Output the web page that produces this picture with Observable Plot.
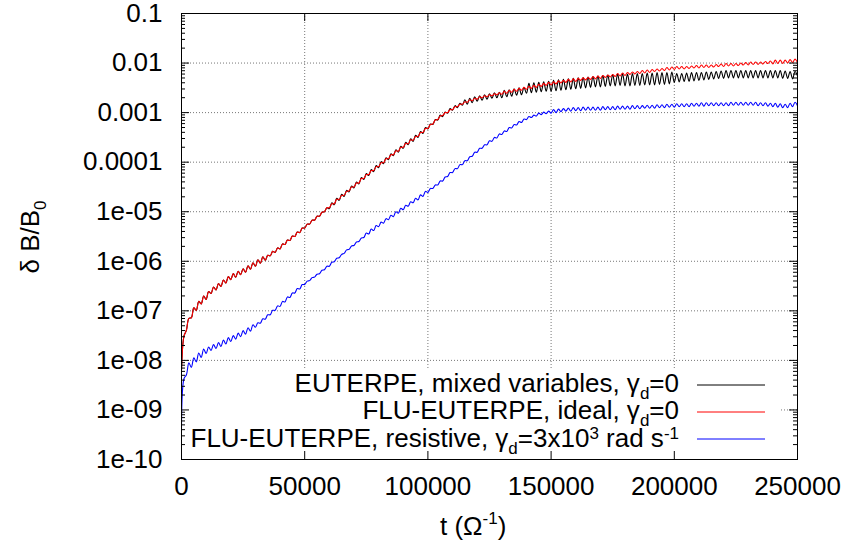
<!DOCTYPE html>
<html><head><meta charset="utf-8">
<script src="https://cdn.jsdelivr.net/npm/d3@7"></script>
<script src="https://cdn.jsdelivr.net/npm/@observablehq/plot@0.6"></script>
<style>
html,body{margin:0;padding:0;background:#fff;}
#chart{width:847px;height:550px;}
</style></head><body><div id="chart"></div>
<script>
// Series (drawn in this order: black, red, blue)
const seriesNames = ["EUTERPE, mixed variables", "FLU-EUTERPE, ideal", "FLU-EUTERPE, resistive"];
const seriesColors = ["#000000", "#ff0000", "#0000ff"];
// time samples, every 1000 Ω^-1 from 0 to 250000
const tGrid = d3.range(0, 250001, 1000);
// log10(δB/B0), one value per time sample
const logBlack = [
-8.20,-7.51,-7.39,-7.15,-7.14,-6.94,-6.99,-6.81,-6.86,-6.70,
-6.77,-6.61,-6.65,-6.52,-6.58,-6.45,-6.51,-6.38,-6.44,-6.31,
-6.37,-6.25,-6.32,-6.20,-6.27,-6.15,-6.22,-6.09,-6.16,-6.03,
-6.10,-5.97,-6.04,-5.91,-5.98,-5.88,-5.89,-5.80,-5.82,-5.73,
-5.75,-5.65,-5.66,-5.57,-5.58,-5.49,-5.50,-5.41,-5.42,-5.33,
-5.33,-5.25,-5.25,-5.17,-5.17,-5.09,-5.09,-5.01,-5.00,-4.92,
-4.94,-4.82,-4.86,-4.73,-4.77,-4.65,-4.69,-4.57,-4.60,-4.48,
-4.52,-4.40,-4.44,-4.31,-4.35,-4.23,-4.27,-4.15,-4.19,-4.07,
-4.11,-3.99,-4.03,-3.91,-3.95,-3.83,-3.87,-3.75,-3.80,-3.68,
-3.72,-3.60,-3.65,-3.53,-3.58,-3.46,-3.50,-3.38,-3.42,-3.30,
-3.33,-3.23,-3.24,-3.14,-3.15,-3.05,-3.08,-2.99,-3.01,-2.92,
-2.95,-2.86,-2.90,-2.81,-2.85,-2.74,-2.83,-2.71,-2.80,-2.68,
-2.77,-2.66,-2.75,-2.64,-2.73,-2.62,-2.71,-2.60,-2.70,-2.59,
-2.70,-2.55,-2.68,-2.54,-2.67,-2.52,-2.65,-2.50,-2.64,-2.49,
-2.61,-2.41,-2.60,-2.40,-2.59,-2.39,-2.58,-2.38,-2.57,-2.37,
-2.57,-2.35,-2.56,-2.34,-2.55,-2.33,-2.54,-2.32,-2.53,-2.31,
-2.52,-2.30,-2.51,-2.29,-2.50,-2.28,-2.49,-2.27,-2.48,-2.26,
-2.48,-2.25,-2.47,-2.24,-2.46,-2.23,-2.46,-2.22,-2.45,-2.21,
-2.46,-2.22,-2.46,-2.21,-2.45,-2.21,-2.45,-2.21,-2.44,-2.20,
-2.44,-2.20,-2.44,-2.19,-2.43,-2.19,-2.43,-2.19,-2.42,-2.18,
-2.39,-2.21,-2.38,-2.21,-2.37,-2.20,-2.37,-2.19,-2.36,-2.19,
-2.35,-2.19,-2.34,-2.18,-2.33,-2.18,-2.32,-2.17,-2.31,-2.16,
-2.31,-2.15,-2.30,-2.15,-2.30,-2.15,-2.30,-2.15,-2.30,-2.15,
-2.30,-2.15,-2.30,-2.15,-2.30,-2.15,-2.30,-2.15,-2.30,-2.15,
-2.30,-2.15,-2.30,-2.15,-2.31,-2.16,-2.31,-2.17,-2.32,-2.17,
-2.26
];
const logRed = [
-8.20,-7.51,-7.39,-7.15,-7.14,-6.94,-6.99,-6.81,-6.86,-6.70,
-6.77,-6.61,-6.65,-6.52,-6.58,-6.45,-6.51,-6.38,-6.44,-6.31,
-6.37,-6.25,-6.32,-6.20,-6.27,-6.15,-6.22,-6.09,-6.16,-6.03,
-6.10,-5.97,-6.04,-5.91,-5.98,-5.88,-5.89,-5.80,-5.82,-5.73,
-5.75,-5.65,-5.66,-5.57,-5.58,-5.49,-5.50,-5.41,-5.42,-5.33,
-5.33,-5.25,-5.25,-5.17,-5.17,-5.09,-5.09,-5.01,-5.00,-4.92,
-4.92,-4.84,-4.84,-4.75,-4.75,-4.67,-4.67,-4.59,-4.58,-4.50,
-4.50,-4.42,-4.42,-4.33,-4.33,-4.25,-4.25,-4.17,-4.17,-4.09,
-4.09,-4.01,-4.01,-3.93,-3.93,-3.85,-3.85,-3.77,-3.78,-3.70,
-3.70,-3.62,-3.63,-3.55,-3.56,-3.48,-3.48,-3.40,-3.40,-3.32,
-3.32,-3.24,-3.23,-3.15,-3.14,-3.07,-3.06,-3.00,-3.00,-2.94,
-2.94,-2.88,-2.88,-2.83,-2.83,-2.78,-2.79,-2.74,-2.76,-2.71,
-2.73,-2.68,-2.70,-2.66,-2.68,-2.64,-2.66,-2.62,-2.64,-2.60,
-2.63,-2.57,-2.61,-2.55,-2.59,-2.53,-2.57,-2.51,-2.55,-2.49,
-2.53,-2.47,-2.51,-2.45,-2.49,-2.43,-2.47,-2.41,-2.45,-2.39,
-2.44,-2.38,-2.42,-2.36,-2.40,-2.35,-2.39,-2.33,-2.38,-2.32,
-2.37,-2.31,-2.35,-2.30,-2.34,-2.29,-2.33,-2.27,-2.32,-2.26,
-2.31,-2.25,-2.29,-2.24,-2.28,-2.23,-2.27,-2.21,-2.26,-2.20,
-2.25,-2.19,-2.23,-2.18,-2.22,-2.17,-2.21,-2.15,-2.20,-2.14,
-2.19,-2.13,-2.17,-2.12,-2.16,-2.11,-2.15,-2.09,-2.14,-2.08,
-2.13,-2.07,-2.12,-2.07,-2.12,-2.07,-2.11,-2.06,-2.10,-2.05,
-2.10,-2.04,-2.09,-2.04,-2.09,-2.04,-2.08,-2.03,-2.07,-2.02,
-2.07,-2.01,-2.06,-2.01,-2.06,-2.01,-2.05,-2.00,-2.04,-1.99,
-2.04,-1.98,-2.03,-1.98,-2.03,-1.98,-2.02,-1.97,-2.01,-1.96,
-2.02,-1.94,-2.01,-1.94,-2.01,-1.94,-2.00,-1.93,-1.99,-1.92,
-1.99
];
const logBlue = [
-10.0,-8.37,-8.29,-8.05,-8.14,-7.95,-8.03,-7.85,-7.94,-7.77,
-7.86,-7.73,-7.80,-7.68,-7.76,-7.64,-7.72,-7.59,-7.67,-7.54,
-7.62,-7.50,-7.57,-7.45,-7.52,-7.40,-7.47,-7.34,-7.41,-7.28,
-7.33,-7.24,-7.25,-7.16,-7.17,-7.08,-7.08,-6.99,-6.99,-6.90,
-6.91,-6.81,-6.82,-6.72,-6.73,-6.64,-6.64,-6.55,-6.56,-6.47,
-6.47,-6.40,-6.39,-6.33,-6.32,-6.26,-6.25,-6.18,-6.17,-6.10,
-6.10,-6.02,-6.01,-5.94,-5.93,-5.86,-5.84,-5.77,-5.76,-5.69,
-5.68,-5.61,-5.60,-5.53,-5.52,-5.43,-5.45,-5.35,-5.38,-5.28,
-5.30,-5.21,-5.23,-5.14,-5.16,-5.07,-5.10,-5.00,-5.03,-4.93,
-4.96,-4.87,-4.89,-4.80,-4.82,-4.73,-4.76,-4.66,-4.69,-4.59,
-4.61,-4.53,-4.53,-4.46,-4.46,-4.38,-4.38,-4.30,-4.29,-4.21,
-4.21,-4.13,-4.13,-4.05,-4.05,-3.97,-3.97,-3.89,-3.88,-3.80,
-3.80,-3.72,-3.72,-3.65,-3.65,-3.57,-3.58,-3.50,-3.51,-3.43,
-3.44,-3.37,-3.38,-3.30,-3.31,-3.24,-3.25,-3.18,-3.20,-3.13,
-3.14,-3.08,-3.10,-3.05,-3.07,-3.01,-3.04,-2.99,-3.02,-2.97,
-3.01,-2.94,-3.00,-2.93,-2.98,-2.92,-2.97,-2.91,-2.97,-2.90,
-2.96,-2.90,-2.96,-2.89,-2.95,-2.89,-2.95,-2.89,-2.95,-2.89,
-2.95,-2.88,-2.94,-2.88,-2.94,-2.88,-2.94,-2.87,-2.93,-2.87,
-2.93,-2.87,-2.93,-2.86,-2.92,-2.86,-2.92,-2.86,-2.91,-2.85,
-2.91,-2.85,-2.91,-2.84,-2.90,-2.84,-2.90,-2.83,-2.89,-2.83,
-2.89,-2.82,-2.88,-2.82,-2.88,-2.82,-2.88,-2.81,-2.87,-2.81,
-2.87,-2.80,-2.87,-2.80,-2.86,-2.80,-2.86,-2.80,-2.86,-2.80,
-2.86,-2.80,-2.86,-2.79,-2.85,-2.79,-2.85,-2.79,-2.85,-2.79,
-2.85,-2.79,-2.85,-2.79,-2.86,-2.80,-2.86,-2.80,-2.87,-2.81,
-2.88,-2.81,-2.89,-2.82,-2.90,-2.83,-2.90,-2.81,-2.88,-2.79,
-2.86
];
// Axis ticks and labels
const xTicks = [0, 50000, 100000, 150000, 200000, 250000];
const xTickLabels = ["0", "50000", "100000", "150000", "200000", "250000"];
const yTicks = [1e-10, 1e-9, 1e-8, 1e-7, 1e-6, 1e-5, 1e-4, 1e-3, 1e-2, 1e-1];
const yTickLabels = ["1e-10", "1e-09", "1e-08", "1e-07", "1e-06", "1e-05", "0.0001", "0.001", "0.01", "0.1"];
const legendMain = ["EUTERPE, mixed variables, \u03b3", "FLU-EUTERPE, ideal, \u03b3", "FLU-EUTERPE, resistive, \u03b3"];
const xLabel = "t (\u03a9";
const yLabel = "\u03b4 B/B";

const logSeries = [logBlack, logRed, logBlue];
const rowsBySeries = logSeries.map((arr, s) => arr.map((v, i) => ({series: s, t: tGrid[i], b: Math.pow(10, v)})).filter(d => d.t !== undefined));

const W = 847, H = 550, mL = 181, mR = 50, mT = 13, mB = 91;
const pw = W - mL - mR, ph = H - mT - mB;
const minorY = [];
for (let e = -10; e < -1; e++) for (let m = 2; m <= 9; m++) minorY.push(m * Math.pow(10, e));
const gridStyle = {stroke: "#777", strokeOpacity: 1, strokeWidth: 1, strokeDasharray: "1,2"};
const font = "'Liberation Sans', Arial, Helvetica, sans-serif";
const FS = 26, FSsub = 17;

const plot = Plot.plot({
  width: W, height: H,
  marginLeft: mL, marginRight: mR, marginTop: mT, marginBottom: mB,
  style: {fontFamily: font, fontSize: FS + "px", background: "#fff", color: "#000"},
  x: {domain: [0, 250000], label: null},
  y: {type: "log", domain: [1e-10, 0.1], label: null},
  marks: [
    Plot.gridX(xTicks.slice(1, -1), gridStyle),
    Plot.gridY(yTicks.slice(1, -1), gridStyle),
    ...rowsBySeries.map((rows, s) => Plot.line(rows, {x: "t", y: "b", stroke: seriesColors[s], strokeWidth: 1.1, curve: "catmull-rom", clip: true})),
    Plot.tickY(yTicks, {y: d => d, insetRight: pw - 8, stroke: "#000"}),
    Plot.tickY(yTicks, {y: d => d, insetLeft: pw - 8, stroke: "#000"}),
    Plot.tickY(minorY, {y: d => d, insetRight: pw - 4, stroke: "#000"}),
    Plot.tickY(minorY, {y: d => d, insetLeft: pw - 4, stroke: "#000"}),
    Plot.tickX(xTicks, {x: d => d, insetTop: ph - 8, stroke: "#000"}),
    Plot.tickX(xTicks, {x: d => d, insetBottom: ph - 8, stroke: "#000"}),
    Plot.axisX(xTicks, {tickSize: 0, tickPadding: 17, fontSize: FS, tickFormat: d => xTickLabels[xTicks.indexOf(d)], label: null}),
    Plot.axisY(yTicks, {tickSize: 0, tickPadding: 19, fontSize: FS, tickFormat: d => yTickLabels[yTicks.indexOf(d)], label: null}),
    Plot.frame({stroke: "#000", strokeWidth: 1})
  ]
});
document.getElementById("chart").appendChild(plot);

const svg = d3.select(plot);
// opaque key background (hides grid lines under the key)
const firstLine = plot.querySelector('g[aria-label="line"]');
const bg = document.createElementNS("http://www.w3.org/2000/svg", "rect");
bg.setAttribute("x", 184); bg.setAttribute("y", 369);
bg.setAttribute("width", 597); bg.setAttribute("height", 89);
bg.setAttribute("fill", "#fff");
firstLine.parentNode.insertBefore(bg, firstLine);

// key
const key = svg.append("g").attr("font-family", font).attr("font-size", FS).attr("fill", "#000");
const keyLineY = [385, 412, 439];
const keyTextY = [392, 419, 447];
const keyTextX = 679;
legendMain.forEach((txt, i) => {
  const t = key.append("text").attr("x", keyTextX).attr("y", keyTextY[i]).attr("text-anchor", "end");
  t.append("tspan").text(txt);
  t.append("tspan").attr("dy", 7).attr("font-size", FSsub).text("d");
  if (i < 2) {
    t.append("tspan").attr("dy", -7).text("=0");
  } else {
    t.append("tspan").attr("dy", -7).text("=3x10");
    t.append("tspan").attr("dy", -8).attr("font-size", FSsub).text("3");
    t.append("tspan").attr("dy", 8).text(" rad s");
    t.append("tspan").attr("dy", -8).attr("font-size", FSsub).text("-1");
  }
  key.append("line").attr("x1", 697).attr("x2", 765).attr("y1", keyLineY[i]).attr("y2", keyLineY[i])
    .attr("stroke", seriesColors[i]).attr("stroke-width", 1);
});

// axis titles
const yl = svg.append("text").attr("font-family", font).attr("font-size", FS).attr("fill", "#000")
  .attr("text-anchor", "middle").attr("transform", "translate(39,237) rotate(-90)");
yl.append("tspan").text(yLabel);
yl.append("tspan").attr("dy", 7).attr("font-size", FSsub).text("0");

const xl = svg.append("text").attr("font-family", font).attr("font-size", FS).attr("fill", "#000")
  .attr("text-anchor", "start").attr("x", 440).attr("y", 535);
xl.append("tspan").text(xLabel);
xl.append("tspan").attr("dy", -11).attr("font-size", FSsub).text("-1");
xl.append("tspan").attr("dy", 11).text(")");
</script>
</body></html>
